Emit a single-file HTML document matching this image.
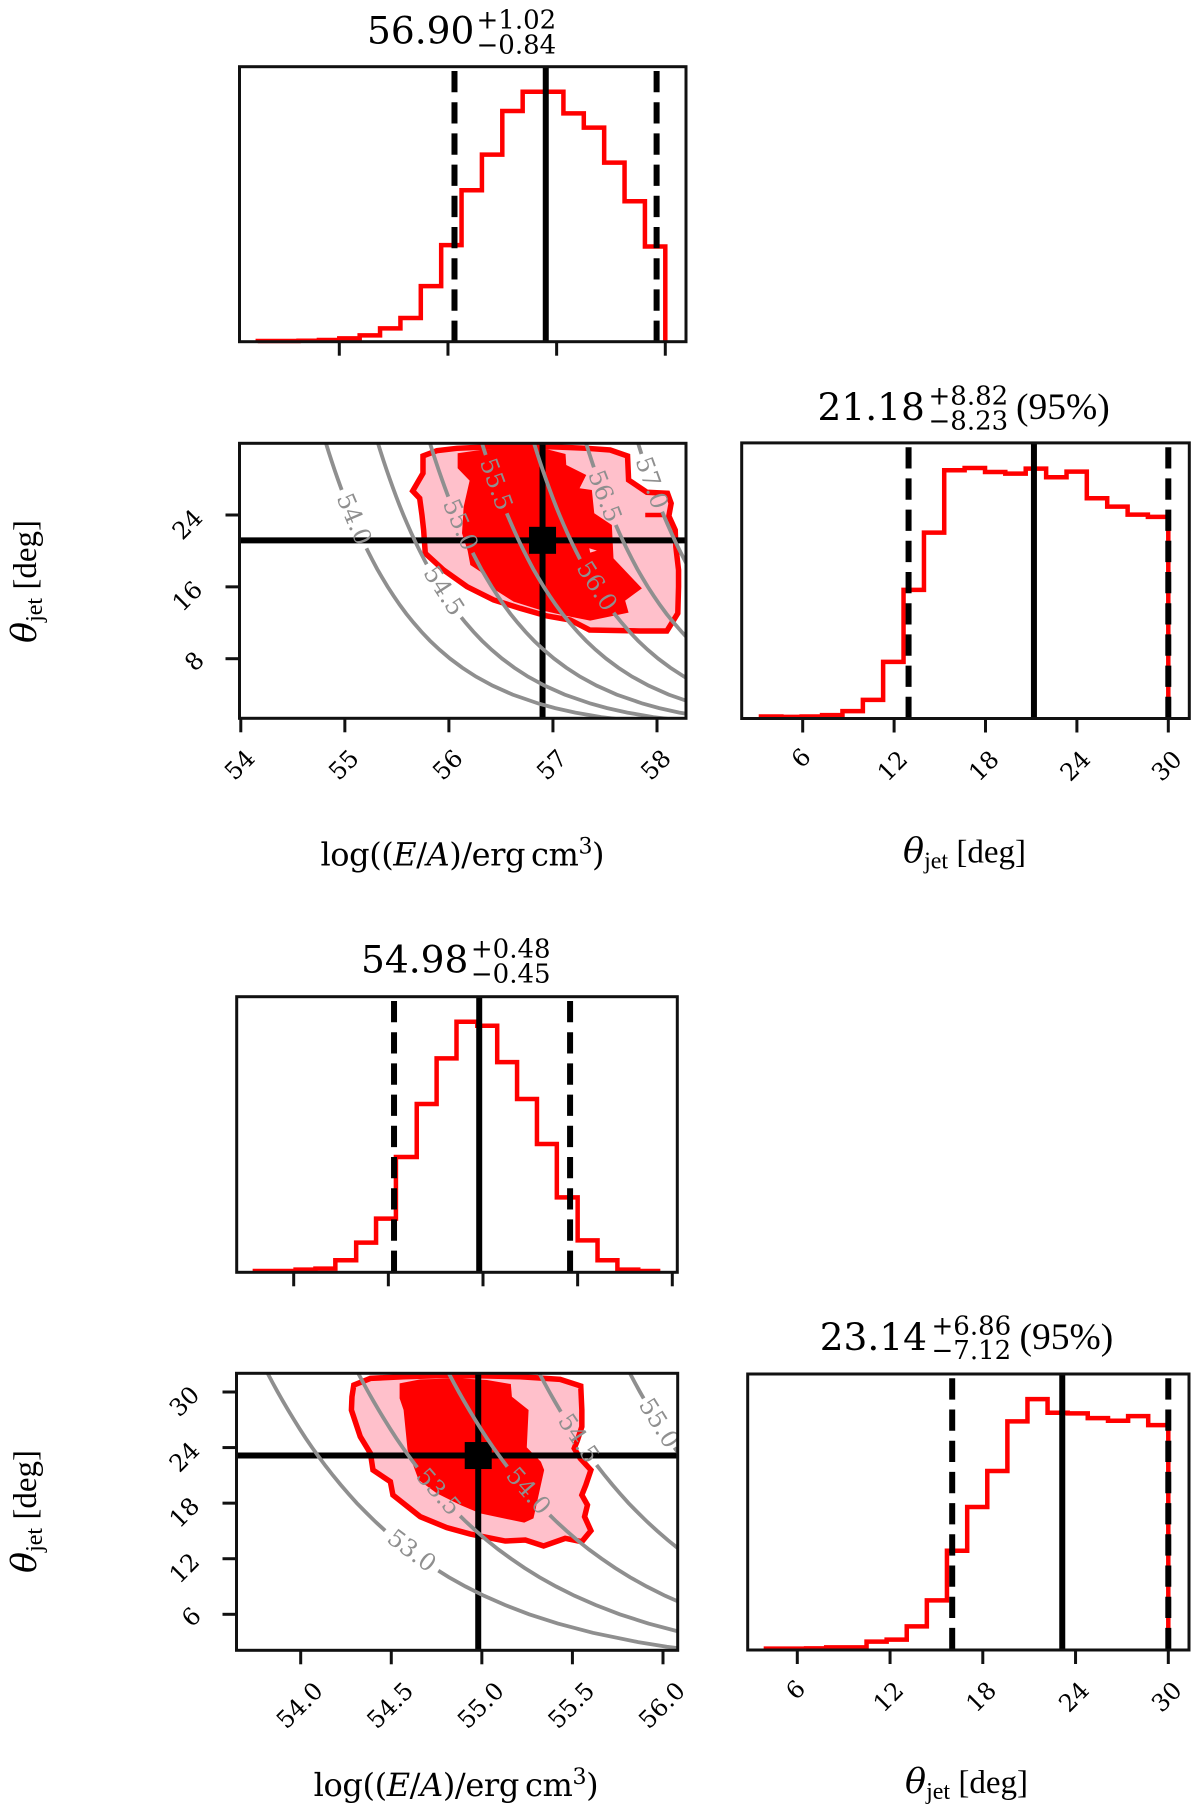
<!DOCTYPE html>
<html lang="en">
<head>
<meta charset="utf-8">
<title>Corner plots</title>
<style>
html,body{margin:0;padding:0;background:#fff;}
svg{display:block;}
.ds{font-family:"DejaVu Serif","Liberation Serif",serif;fill:#000;}
.ls{font-family:"Liberation Serif","DejaVu Serif",serif;fill:#000;}
.frame{fill:none;stroke:#111;stroke-width:3;}
</style>
</head>
<body>
<svg id="figure" xmlns="http://www.w3.org/2000/svg" width="1200" height="1814" viewBox="0 0 1200 1814">
  <defs>
    <clipPath id="clip-p2"><rect x="239.5" y="443.3" width="446.5" height="275"/></clipPath>
    <clipPath id="clip-p5"><rect x="236.5" y="1373.3" width="441.2" height="277"/></clipPath>
  </defs>
  <rect x="0" y="0" width="1200" height="1814" fill="#fff"/>

  <g>
    <text class="ds" x="367" y="43.3" font-size="37.5">56.90</text>
    <text class="ds" x="476.5" y="28.3" font-size="26">+1.02</text>
    <text class="ds" x="476.5" y="53.3" font-size="26">−0.84</text>
    <g id="p1"></g>
    <rect class="frame" x="239.5" y="66.7" width="446.5" height="275"/>
  </g>

  <g>
    <g id="p2"></g>
    <rect class="frame" x="239.5" y="443.3" width="446.5" height="275"/>
    <text class="ds" x="320.5" y="865.7" font-size="32" textLength="284"><tspan>log((</tspan><tspan font-style="italic">E</tspan><tspan>/</tspan><tspan font-style="italic">A</tspan><tspan>)/erg&#8201;cm</tspan><tspan dy="-12" font-size="22">3</tspan><tspan dy="12">)</tspan></text>
    <text class="ls" transform="translate(36,643) rotate(-90)" font-size="33"><tspan class="ds" font-size="35" font-style="italic">θ</tspan><tspan dy="6" font-size="24">jet</tspan><tspan dy="-6"> [deg]</tspan></text>
  </g>

  <g>
    <text class="ds" x="817.5" y="420" font-size="37.5">21.18</text>
    <text class="ds" x="928.5" y="404.3" font-size="26">+8.82</text>
    <text class="ds" x="928.5" y="429.3" font-size="26">−8.23</text>
    <text class="ls" x="1016" y="419" font-size="37.5">(95%)</text>
    <g id="p3"></g>
    <rect class="frame" x="741.7" y="442.9" width="447.6" height="275.6"/>
    <text class="ls" x="903" y="862.7" font-size="33"><tspan class="ds" font-size="35" font-style="italic">θ</tspan><tspan dy="6" font-size="24">jet</tspan><tspan dy="-6"> [deg]</tspan></text>
  </g>

  <g>
    <text class="ds" x="361" y="972.3" font-size="37.5">54.98</text>
    <text class="ds" x="470.9" y="957.7" font-size="26">+0.48</text>
    <text class="ds" x="470.9" y="982.3" font-size="26">−0.45</text>
    <g id="p4"></g>
    <rect class="frame" x="236.7" y="996.7" width="440.6" height="275.6"/>
  </g>

  <g>
    <g id="p5"></g>
    <rect class="frame" x="236.5" y="1373.3" width="441.2" height="277"/>
    <text class="ds" x="313.6" y="1796" font-size="32" textLength="285"><tspan>log((</tspan><tspan font-style="italic">E</tspan><tspan>/</tspan><tspan font-style="italic">A</tspan><tspan>)/erg&#8201;cm</tspan><tspan dy="-12" font-size="22">3</tspan><tspan dy="12">)</tspan></text>
    <text class="ls" transform="translate(36,1573) rotate(-90)" font-size="33"><tspan class="ds" font-size="35" font-style="italic">θ</tspan><tspan dy="6" font-size="24">jet</tspan><tspan dy="-6"> [deg]</tspan></text>
  </g>

  <g>
    <text class="ds" x="819.7" y="1350" font-size="37.5">23.14</text>
    <text class="ds" x="931.5" y="1334.3" font-size="26">+6.86</text>
    <text class="ds" x="931.5" y="1359" font-size="26">−7.12</text>
    <text class="ls" x="1019.5" y="1349" font-size="37.5">(95%)</text>
    <g id="p6"></g>
    <rect class="frame" x="747.7" y="1374" width="441.3" height="276"/>
    <text class="ls" x="905" y="1793" font-size="33"><tspan class="ds" font-size="35" font-style="italic">θ</tspan><tspan dy="6" font-size="24">jet</tspan><tspan dy="-6"> [deg]</tspan></text>
  </g>
</svg>
<script>
// ---- histogram data ----
const topEnergyEdges = [54.25,54.4375,54.625,54.8125,55,55.1875,55.375,55.5625,55.75,55.9375,56.125,56.3125,56.5,56.6875,56.875,57.0625,57.25,57.4375,57.625,57.8125,58];
const topEnergyCounts = [2,2,3,5,10,19,40,71,167,290,455,562,693,751,751,686,643,538,422,286];
const topEnergyStats = [56.06,56.90,57.92];
const topEnergyTicks = [55,56,57,58];

const topThetaEdges = [3.26,4.60,5.93,7.27,8.61,9.95,11.28,12.62,13.96,15.29,16.63,17.97,19.30,20.64,21.98,23.32,24.65,25.99,27.33,28.66,30];
const topThetaCounts = [6,5,6,10,22,56,170,386,558,745,752,740,735,750,724,741,661,636,612,605];
const topThetaStats = [12.95,21.18,30];
const topThetaTicks = [6,12,18,24,30];
const topThetaTickLabels = ['6','12','18','24','30'];

const bottomEnergyEdges = [53.795,53.90,54.01,54.115,54.22,54.33,54.435,54.54,54.65,54.755,54.86,54.97,55.075,55.18,55.285,55.39,55.50,55.605,55.71,55.82,55.925];
const bottomEnergyCounts = [4,4,8,11,36,89,161,346,505,642,752,740,631,520,385,225,96,36,8,4];
const bottomEnergyStats = [54.53,54.98,55.46];
const bottomEnergyTicks = [54,54.5,55,55.5,56];

const bottomThetaEdges = [3.97,5.27,6.57,7.87,9.18,10.48,11.78,13.08,14.38,15.68,16.99,18.29,19.59,20.89,22.19,23.49,24.79,26.10,27.40,28.70,30];
const bottomThetaCounts = [4,4,5,8,8,25,31,71,149,298,429,537,686,753,712,710,696,688,702,675];
const bottomThetaStats = [16.02,23.14,30];
const bottomThetaTicks = [6,12,18,24,30];
const bottomThetaTickLabels = ['6','12','18','24','30'];

// ---- joint panels: contours as [log(E/A), theta] pairs ----
const topOuterE = [55.751,55.885,56.077,56.302,56.622,56.942,57.326,57.550,57.717,57.727,57.903,58.101,58.136,58.114,58.175,58.181,58.207,58.207,58.200,58.095,57.839,57.352,57.166,56.942,56.686,56.430,56.174,55.949,55.773,55.757,55.741,55.719,55.652,55.751];
const topOuterTheta = [30.573,31.167,31.426,31.538,31.612,31.612,31.426,31.241,30.573,27.900,26.527,26.415,25.302,23.891,22.332,20.476,17.878,16.022,13.052,11.085,11.085,11.196,12.310,12.755,13.609,14.537,16.022,17.878,19.734,22.332,24.003,25.858,26.675,28.642];
const topInnerE = [56.084,56.084,56.199,56.142,56.126,56.180,56.206,56.302,56.446,56.622,56.878,57.134,57.358,57.727,57.694,57.855,57.582,57.566,57.397,57.374,57.256,57.320,57.128,57.121,56.942,56.622,56.302];
const topInnerTheta = [30.870,29.199,27.826,24.930,21.961,20.031,18.435,17.692,15.651,14.352,13.423,12.755,12.236,13.126,14.463,15.836,19.177,22.889,24.188,26.786,26.972,28.457,29.570,30.795,31.315,31.389,31.241];
const topHoleE = [57.349,57.422,57.358];
const topHoleTheta = [20.291,20.031,19.808];
const topBarE = [57.887,58.063];
const topBarTheta = [24.0,24.0];

const bottomOuterE = [54.293,54.385,54.568,54.752,54.973,55.212,55.432,55.546,55.552,55.552,55.528,55.510,55.543,55.602,55.574,55.552,55.583,55.567,55.602,55.552,55.460,55.341,55.240,55.129,54.936,54.807,54.660,54.509,54.495,54.399,54.385,54.329,54.280,54.283];
const bottomOuterTheta = [30.750,31.469,31.649,31.757,31.757,31.649,31.361,30.642,28.051,26.252,24.813,23.914,22.835,21.575,19.956,18.877,17.798,16.538,15.027,13.840,14.200,13.372,14.020,13.912,14.668,15.351,16.538,18.877,20.316,21.575,23.374,25.173,28.051,29.490];
const bottomInnerE = [54.546,54.546,54.568,54.590,54.651,54.752,54.881,54.991,55.234,55.285,55.344,55.326,55.248,55.258,55.166,55.160,55.028,54.881,54.660];
const bottomInnerTheta = [30.930,29.311,28.051,23.734,20.496,19.057,17.798,16.898,15.891,16.359,21.575,22.475,24.022,28.051,29.490,30.858,31.289,31.469,31.361];

// ---- iso-energy curve shape: theta samples and E shift at each sample ----
const isoTheta = [1,1.5,2,2.5,3,4,5,6,7,8,9,10,11,12,13,14,15,16,17,18,19,20,21,22,23,24,25,26,27,28,29,30,31,32];
const isoShift = [3.817,3.465,3.215,3.021,2.863,2.613,2.420,2.261,2.128,2.012,1.910,1.818,1.736,1.661,1.591,1.527,1.468,1.412,1.360,1.310,1.264,1.220,1.178,1.138,1.100,1.063,1.028,0.995,0.963,0.932,0.902,0.873,0.845,0.818];

const topLevels = [54.0,54.5,55.0,55.5,56.0,56.5,57.0];
const topLevelLabels = ['54.0','54.5','55.0','55.5','56.0','56.5','57.0'];
const topGapHigh = [26.79,18.51,26.04,30.68,19.07,29.31,30.8];
const topGapLow = [20.29,12.61,19.80,24.19,13.12,22.89,24.37];
const topXTicks = [54,55,56,57,58];
const topXTickLabels = ['54','55','56','57','58'];
const topYTicks = [8,16,24];
const topYTickLabels = ['8','16','24'];
const topPoint = [56.90,21.18];

const bottomLevels = [53.0,53.5,54.0,54.5,55.0];
const bottomLevelLabels = ['53.0','53.5','54.0','54.5','55.0'];
const bottomGapHigh = [15.03,21.86,21.935,27.87,29.3];
const bottomGapLow = [10.71,16.61,16.72,22.12,24.0];
const bottomXTicks = [54,54.5,55,55.5,56];
const bottomXTickLabels = ['54.0','54.5','55.0','55.5','56.0'];
const bottomYTicks = [6,12,18,24,30];
const bottomYTickLabels = ['6','12','18','24','30'];
const bottomPoint = [54.98,23.14];

// ---- helpers ----
const NS = 'http://www.w3.org/2000/svg';
function mk(tag, attrs, parent){
  const e = document.createElementNS(NS, tag);
  for (const k in attrs) e.setAttribute(k, attrs[k]);
  parent.appendChild(e);
  return e;
}
function linear(d0, d1, r0, r1){
  return function(v){ return r0 + (v - d0) * (r1 - r0) / (d1 - d0); };
}
function pathFrom(xs, ys, sx, sy, close){
  let d = '';
  for (let i = 0; i < xs.length; i++) {
    d += (i ? 'L' : 'M') + sx(xs[i]).toFixed(2) + ' ' + sy(ys[i]).toFixed(2);
  }
  return d + (close ? 'Z' : '');
}
function shiftAt(theta){
  for (let i = 1; i < isoTheta.length; i++) {
    if (theta <= isoTheta[i]) {
      const t = (theta - isoTheta[i-1]) / (isoTheta[i] - isoTheta[i-1]);
      return isoShift[i-1] + t * (isoShift[i] - isoShift[i-1]);
    }
  }
  return isoShift[isoShift.length - 1];
}
function tickLabel(parent, x, y, text){
  const t = mk('text', {class:'ds', x:x, y:y, 'font-size':24, 'text-anchor':'middle', 'dominant-baseline':'central', transform:'rotate(-45 '+x+' '+y+')'}, parent);
  
  
  t.textContent = text;
}
function xTicks(parent, ticks, sx, bottom){
  ticks.forEach(function(v){
    const l = mk('line', {x1:sx(v), x2:sx(v), y1:bottom, y2:bottom+14, stroke:'#111', 'stroke-width':3}, parent);
    
    
  });
}
function yTicks(parent, ticks, sy, left){
  ticks.forEach(function(v){
    const l = mk('line', {x1:left-14, x2:left, y1:sy(v), y2:sy(v), stroke:'#111', 'stroke-width':3}, parent);
    
    
  });
}
function drawHist(id, edges, counts, stats, sx, top, bottom){
  const g = document.getElementById(id);
  const peak = Math.max.apply(null, counts);
  const sy = linear(0, 1.1 * peak, bottom, top);
  let d = 'M' + sx(edges[0]).toFixed(2) + ' ' + sy(0).toFixed(2);
  counts.forEach(function(c, i){
    d += 'L' + sx(edges[i]).toFixed(2) + ' ' + sy(c).toFixed(2);
    d += 'L' + sx(edges[i+1]).toFixed(2) + ' ' + sy(c).toFixed(2);
  });
  d += 'L' + sx(edges[edges.length-1]).toFixed(2) + ' ' + sy(0).toFixed(2);
  const h = mk('path', {d:d, fill:'none', stroke:'#ff0000', 'stroke-width':4.5, 'stroke-linejoin':'miter'}, g);
  
  
  stats.forEach(function(v, i){
    const attrs = {x1:sx(v), x2:sx(v), y1:i === 1 ? top : top+4.3, y2:bottom, stroke:'#000', 'stroke-width':6};
    if (i !== 1) attrs['stroke-dasharray'] = '21.3 9.9';
    const l = mk('line', attrs, g);
    
    
  });
  return g;
}
function drawJoint(id, clip, sx, sy, c){
  const g = document.getElementById(id);
  const inner = mk('g', {'clip-path':'url(#'+clip+')'}, g);
  
  
  const outerD = pathFrom(c.outerE, c.outerT, sx, sy, true);
  const pink = mk('path', {d:outerD, fill:'#ffc0cb'}, inner);
  
  
  const red = mk('path', {d:pathFrom(c.innerE, c.innerT, sx, sy, true), fill:'#ff0000'}, inner);
  
  
  if (c.holeE) {
    const hole = mk('path', {d:pathFrom(c.holeE, c.holeT, sx, sy, true), fill:'#ffc0cb'}, inner);
    
    
    const bar = mk('path', {d:pathFrom(c.barE, c.barT, sx, sy, false), fill:'none', stroke:'#ff0000', 'stroke-width':4.5}, inner);
    
    
  }
  const edge = mk('path', {d:outerD, fill:'none', stroke:'#ff0000', 'stroke-width':5.5, 'stroke-linejoin':'miter'}, inner);
  
  

  const cx = sx(c.point[0]), cy = sy(c.point[1]);
  const v = mk('line', {x1:cx, x2:cx, y1:c.top, y2:c.bottom, stroke:'#000', 'stroke-width':6}, inner);
  
  
  const hz = mk('line', {x1:c.left, x2:c.right, y1:cy, y2:cy, stroke:'#000', 'stroke-width':6}, inner);
  
  
  const sq = mk('rect', {x:cx-13.5, y:cy-13.5, width:27, height:27, fill:'#000'}, inner);
  
  

  c.levels.forEach(function(level, i){
    const hi = c.gapHigh[i], lo = c.gapLow[i];
    const upE = [level + shiftAt(hi)], upT = [hi];
    const dnE = [], dnT = [];
    isoTheta.forEach(function(th, k){
      if (th > hi) { upE.push(level + isoShift[k]); upT.push(th); }
      if (th < lo) { dnE.push(level + isoShift[k]); dnT.push(th); }
    });
    dnE.push(level + shiftAt(lo)); dnT.push(lo);
    const a = mk('path', {d:pathFrom(upE, upT, sx, sy, false), fill:'none', stroke:'#8f8f8f', 'stroke-width':3.8}, inner);
    
    
    const b = mk('path', {d:pathFrom(dnE, dnT, sx, sy, false), fill:'none', stroke:'#8f8f8f', 'stroke-width':3.8}, inner);
    
    
    const x1 = sx(level + shiftAt(hi)), y1 = sy(hi), x2 = sx(level + shiftAt(lo)), y2 = sy(lo);
    const mx = (x1 + x2) / 2, my = (y1 + y2) / 2;
    const ang = Math.atan2(y2 - y1, x2 - x1) * 180 / Math.PI;
    const t = mk('text', {class:'ds', x:mx, y:my, 'font-size':24, 'text-anchor':'middle', 'dominant-baseline':'central', transform:'rotate('+ang.toFixed(2)+' '+mx.toFixed(2)+' '+my.toFixed(2)+')'}, g);
    
    
    t.style.fill = '#8f8f8f';
    t.textContent = c.levelLabels[i];
  });
  xTicks(g, c.xTicks, sx, c.bottom);
  yTicks(g, c.yTicks, sy, c.left);
  c.xTicks.forEach(function(val, i){ tickLabel(g, sx(val) - 1, c.xLabelY, c.xTickLabels[i]); });
  c.yTicks.forEach(function(val, i){
    const two = c.yTickLabels[i].length > 1;
    tickLabel(g, two ? c.left - 52 : c.left - 45, sy(val) + (two ? 9.5 : 2.8), c.yTickLabels[i]);
  });
  return g;
}

// ---- top energy histogram ----
const p1X = linear(55, 58, 339.3, 665.3);
xTicks(drawHist('p1', topEnergyEdges, topEnergyCounts, topEnergyStats, p1X, 66.7, 341.7), topEnergyTicks, p1X, 341.7);

// ---- top theta histogram ----
const p3X = linear(6, 30, 802.7, 1168.3);
const p3G = drawHist('p3', topThetaEdges, topThetaCounts, topThetaStats, p3X, 442.9, 718.5);
xTicks(p3G, topThetaTicks, p3X, 718.5);
topThetaTicks.forEach(function(v, i){
  tickLabel(p3G, p3X(v) - 1.5, topThetaTickLabels[i].length > 1 ? 766 : 758, topThetaTickLabels[i]);
});

// ---- bottom energy histogram ----
const p4X = linear(54, 56, 293.7, 672.3);
xTicks(drawHist('p4', bottomEnergyEdges, bottomEnergyCounts, bottomEnergyStats, p4X, 996.7, 1272.3), bottomEnergyTicks, p4X, 1272.3);

// ---- bottom theta histogram ----
const p6X = linear(6, 30, 797.3, 1168.3);
const p6G = drawHist('p6', bottomThetaEdges, bottomThetaCounts, bottomThetaStats, p6X, 1374, 1650);
xTicks(p6G, bottomThetaTicks, p6X, 1650);
bottomThetaTicks.forEach(function(v, i){
  tickLabel(p6G, p6X(v) - 1.5, bottomThetaTickLabels[i].length > 1 ? 1697 : 1690, bottomThetaTickLabels[i]);
});

// ---- joint panels ----
drawJoint('p2', 'clip-p2', linear(54, 58, 240.8, 657), linear(8, 24, 658.7, 515), {
  outerE:topOuterE, outerT:topOuterTheta, innerE:topInnerE, innerT:topInnerTheta,
  holeE:topHoleE, holeT:topHoleTheta, barE:topBarE, barT:topBarTheta,
  levels:topLevels, levelLabels:topLevelLabels, gapHigh:topGapHigh, gapLow:topGapLow,
  point:topPoint, xTicks:topXTicks, xTickLabels:topXTickLabels, yTicks:topYTicks, yTickLabels:topYTickLabels,
  left:239.5, right:686, top:443.3, bottom:718.3, xLabelY:765
});
drawJoint('p5', 'clip-p5', linear(54, 56, 300.7, 663), linear(6, 30, 1614.3, 1392), {
  outerE:bottomOuterE, outerT:bottomOuterTheta, innerE:bottomInnerE, innerT:bottomInnerTheta,
  levels:bottomLevels, levelLabels:bottomLevelLabels, gapHigh:bottomGapHigh, gapLow:bottomGapLow,
  point:bottomPoint, xTicks:bottomXTicks, xTickLabels:bottomXTickLabels, yTicks:bottomYTicks, yTickLabels:bottomYTickLabels,
  left:236.5, right:677.7, top:1373.3, bottom:1650.3, xLabelY:1705.5
});
</script>
</body>
</html>
